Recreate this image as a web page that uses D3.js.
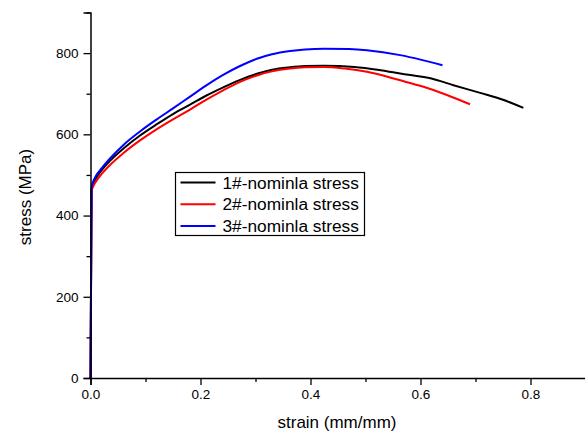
<!DOCTYPE html>
<html>
<head>
<meta charset="utf-8">
<script src="https://cdn.jsdelivr.net/npm/d3@7.9.0/dist/d3.min.js"></script>
<style>
  body { margin: 0; background: #fff; }
  svg { display: block; font-family: Arial, "Liberation Sans", sans-serif; }
</style>
</head>
<body>
<svg id="chart" width="585" height="432"></svg>
<script>
// strain (mm/mm) / stress (MPa) samples
const strain1 = [0, 0.002, 0.005, 0.01, 0.02, 0.035, 0.06, 0.09, 0.1207, 0.15, 0.181, 0.21, 0.242, 0.27, 0.3025, 0.33, 0.363, 0.39, 0.424, 0.48, 0.527, 0.563, 0.618, 0.66, 0.7085, 0.75, 0.787];
const stress1 = [0, 465, 479, 492, 511, 534, 565, 597, 625, 650, 673, 695, 716, 733, 749, 759, 765, 768, 769, 766, 758, 750, 738, 721, 702, 685, 665];

const strain2 = [0, 0.002, 0.005, 0.01, 0.02, 0.035, 0.06, 0.09, 0.1207, 0.15, 0.181, 0.21, 0.242, 0.27, 0.3025, 0.33, 0.363, 0.39, 0.424, 0.4625, 0.5025, 0.563, 0.6055, 0.648, 0.69];
const stress2 = [0, 460, 472, 484, 502, 524, 554, 585, 613, 637, 661, 685, 709, 728, 745, 755, 762, 765, 766, 762, 754, 733, 717, 697, 674];

const strain3 = [0, 0.002, 0.005, 0.01, 0.02, 0.035, 0.06, 0.09, 0.1207, 0.15, 0.181, 0.21, 0.242, 0.27, 0.3025, 0.33, 0.363, 0.39, 0.424, 0.47, 0.5025, 0.563, 0.6, 0.64];
const stress3 = [0, 470, 484, 498, 516, 540, 574, 607, 637, 664, 693, 720, 747, 767, 786, 797, 805, 809, 811, 810, 807, 795, 784, 770];

const seriesNames = ['1#-nominla stress', '2#-nominla stress', '3#-nominla stress'];
const seriesColors = ['#000000', '#ff0000', '#0000ff'];

const xTicks = [0, 0.2, 0.4, 0.6, 0.8];
const xMinor = [0.1, 0.3, 0.5, 0.7, 0.9];
const yTicks = [0, 200, 400, 600, 800];
const yMinor = [100, 300, 500, 700, 900];

const svg = d3.select('#chart');

const x = d3.scaleLinear().domain([0, 0.9]).range([90.5, 585.5]);
const y = d3.scaleLinear().domain([0, 900]).range([378, 12.5]);

const series = [
  strain1.map((s, i) => [s, stress1[i]]),
  strain2.map((s, i) => [s, stress2[i]]),
  strain3.map((s, i) => [s, stress3[i]])
];

const line = d3.line()
  .x(d => x(d[0]))
  .y(d => y(d[1]))
  .curve(d3.curveMonotoneX);

// curves (black first, blue on top)
series.forEach((pts, i) => {
  svg.append('path')
    .attr('d', line(pts))
    .attr('fill', 'none')
    .attr('stroke', seriesColors[i])
    .attr('stroke-width', 2);
});

// x axis
const xAxis = svg.append('g').attr('transform', `translate(0,${y(0)})`);
xAxis.call(d3.axisBottom(x).tickValues(xTicks).tickSize(7).tickPadding(4).tickFormat(d3.format('.1f')));
xAxis.append('g').call(d3.axisBottom(x).tickValues(xMinor).tickSize(4).tickFormat(''));

// y axis
const yAxis = svg.append('g').attr('transform', `translate(${x(0)},0)`);
yAxis.call(d3.axisLeft(y).tickValues(yTicks).tickSize(7).tickPadding(5).tickFormat(d3.format('d')));
yAxis.append('g').call(d3.axisLeft(y).tickValues(yMinor).tickSize(4).tickFormat(''));

svg.selectAll('.domain').attr('stroke', '#000').attr('stroke-width', 1.5);
svg.selectAll('.tick line').attr('stroke', '#000').attr('stroke-width', 1.3);
svg.selectAll('.domain').filter(function () { return this.parentNode.parentNode !== svg.node(); }).remove();
svg.selectAll('.tick text').attr('font-size', 13.5).attr('fill', '#000').attr('font-family', 'Arial, "Liberation Sans", sans-serif');

// axis titles
svg.append('text')
  .attr('x', 337)
  .attr('y', 428)
  .attr('text-anchor', 'middle')
  .attr('font-size', 17)
  .text('strain (mm/mm)');

svg.append('text')
  .attr('transform', 'translate(31,197) rotate(-90)')
  .attr('text-anchor', 'middle')
  .attr('font-size', 17)
  .text('stress (MPa)');

// legend
const legend = svg.append('g').attr('transform', 'translate(175.5,172.5)');
legend.append('rect')
  .attr('width', 189)
  .attr('height', 63)
  .attr('fill', '#fff')
  .attr('stroke', '#000')
  .attr('stroke-width', 1.2);

seriesNames.forEach((name, i) => {
  const rowY = 10 + i * 21.8;
  legend.append('line')
    .attr('x1', 5).attr('x2', 40)
    .attr('y1', rowY).attr('y2', rowY)
    .attr('stroke', seriesColors[i])
    .attr('stroke-width', 2);
  legend.append('text')
    .attr('x', 47)
    .attr('y', rowY + 6)
    .attr('font-size', 17.3)
    .text(name);
});
</script>
</body>
</html>
